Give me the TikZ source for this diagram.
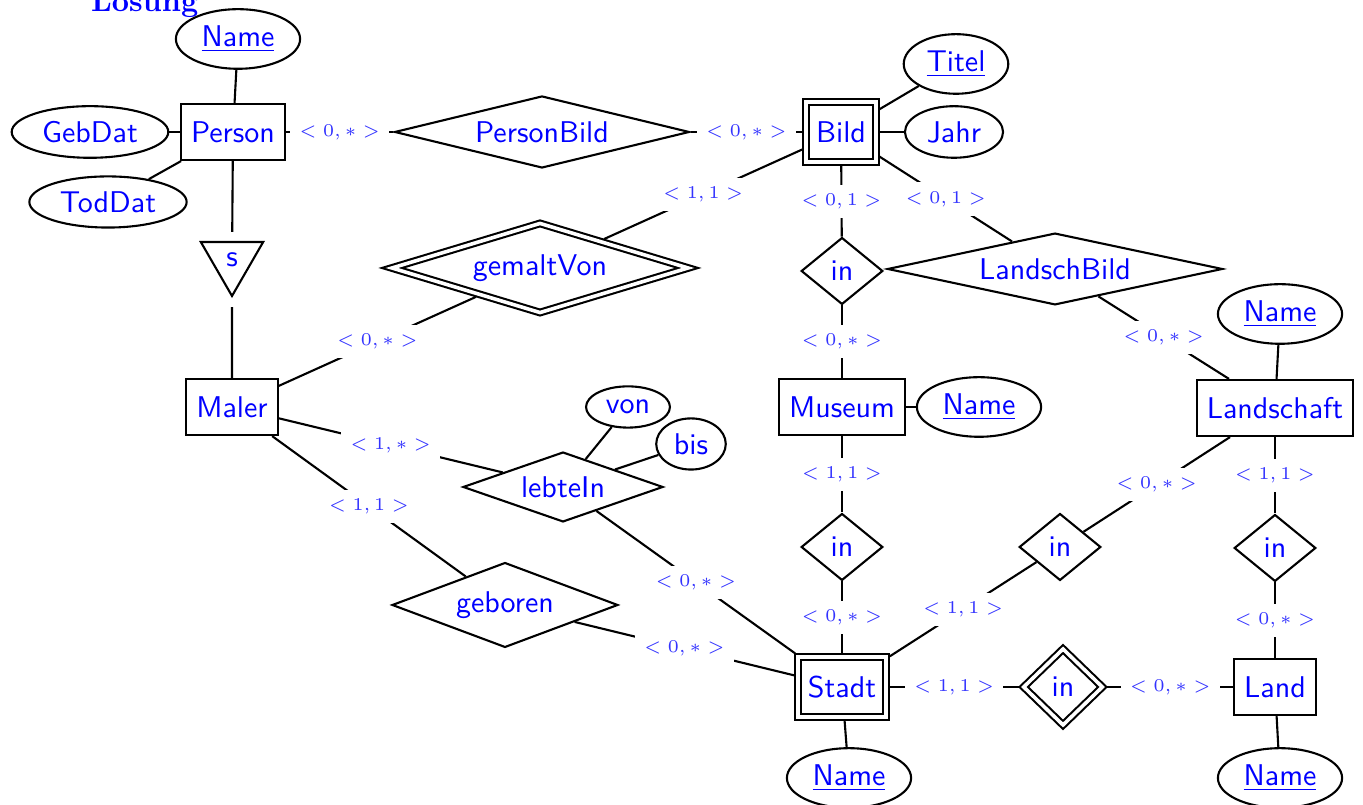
\documentclass[tikz,border=0pt]{standalone}
\usetikzlibrary{shapes.geometric}

\tikzset{
  entity/.style={draw, rectangle, minimum height=18.7pt, font=\sffamily, text=blue},
  weakentity/.style={entity, double, double distance=1.2pt, minimum height=20pt, outer sep=1.2pt},
  attr/.style={draw, ellipse, inner sep=2.5pt, font=\sffamily, text=blue},
  rel/.style={draw, diamond, aspect=3, inner sep=0pt, font=\sffamily, text=blue},
  weakrel/.style={rel, double, double distance=1.2pt, outer sep=1.2pt},
  card/.style={font=\fontsize{6.3}{7}\selectfont, text=blue!80, fill=white, inner sep=3pt},
  isa/.style={draw, regular polygon, regular polygon sides=3, shape border rotate=180,
    minimum size=24pt, inner sep=0pt, font=\sffamily, text=blue}
}

\begin{document}
\begin{tikzpicture}[x=33.33pt, y=33.33pt, line width=0.7pt]
  \useasboundingbox (0,0) rectangle (13.63,8.05);

  \node[anchor=base west, text=blue, font=\bfseries, inner sep=0pt] (title) at (0.90,7.93) {Lösung};

  % Entitaeten
  \node[entity] (person) at (2.33,6.73) {Person};
  \node[weakentity] (bild) at (8.41,6.73) {Bild};
  \node[entity] (maler) at (2.32,3.98) {Maler};
  \node[entity] (museum) at (8.42,3.98) {Museum};
  \node[entity] (landschaft) at (12.75,3.97) {Landschaft};
  \node[weakentity] (stadt) at (8.42,1.18) {Stadt};
  \node[entity] (land) at (12.75,1.18) {Land};

  % Attribute
  \node[attr] (pname) at (2.38,7.66) {\underline{Name}};
  \node[attr] (gebdat) at (0.90,6.73) {GebDat};
  \node[attr] (toddat) at (1.08,6.03) {TodDat};
  \node[attr] (titel) at (9.56,7.41) {\underline{Titel}};
  \node[attr] (jahr) at (9.54,6.73) {Jahr};
  \node[attr] (mname) at (9.79,3.98) {\underline{Name}};
  \node[attr] (lname) at (12.80,4.91) {\underline{Name}};
  \node[attr] (von) at (6.28,3.98) {von};
  \node[attr] (bis) at (6.91,3.61) {bis};
  \node[attr] (sname) at (8.49,0.27) {\underline{Name}};
  \node[attr] (laname) at (12.80,0.27) {\underline{Name}};

  % Beziehungen
  \node[rel, minimum width=98.3pt, minimum height=24pt] (personbild) at (5.42,6.73) {PersonBild};
  \node[weakrel, minimum width=99.7pt, minimum height=30.7pt] (gemaltvon) at (5.40,5.37) {gemaltVon};
  \node[rel, minimum width=24.3pt, minimum height=22.3pt] (inmuseum) at (8.42,5.34) {in};
  \node[rel, minimum width=111.7pt, minimum height=23.7pt] (landschbild) at (10.55,5.36) {LandschBild};
  \node[rel, minimum width=66.7pt, minimum height=23.3pt] (lebtein) at (5.63,3.18) {lebteIn};
  \node[rel, minimum width=75.3pt, minimum height=28.3pt] (geboren) at (5.05,2.00) {geboren};
  \node[rel, minimum width=24.3pt, minimum height=22.3pt] (instadt) at (8.42,2.58) {in};
  \node[rel, minimum width=24.3pt, minimum height=22.3pt] (inlandschaft) at (10.60,2.58) {in};
  \node[rel, minimum width=24.3pt, minimum height=22.3pt] (inland) at (12.75,2.57) {in};
  \node[weakrel, minimum width=27pt, minimum height=26.3pt] (instaat) at (10.63,1.18) {in};

  \node[isa] (isa) at (2.32,5.45) {s};

  % Verbindungen
  \draw (pname) -- (person);
  \draw (gebdat) -- (person);
  \draw (toddat) -- (person);
  \draw (person) -- node[card] {$<0,*>$} (personbild);
  \draw (personbild) -- node[card] {$<0,*>$} (bild);
  \draw (titel) -- (bild);
  \draw (jahr) -- (bild);
  \draw (bild) -- node[card] {$<1,1>$} (gemaltvon);
  \draw (gemaltvon) -- node[card] {$<0,*>$} (maler);
  \draw (bild) -- node[card] {$<0,1>$} (inmuseum);
  \draw (inmuseum) -- node[card] {$<0,*>$} (museum);
  \draw (bild) -- node[card] {$<0,1>$} (landschbild);
  \draw (landschbild) -- node[card] {$<0,*>$} (landschaft);
  \draw (mname) -- (museum);
  \draw (lname) -- (landschaft);

  \draw[shorten >=3pt] (person) -- (isa);
  \draw[shorten <=3pt] (isa) -- (maler);

  \draw (maler) -- node[card] {$<1,*>$} (lebtein);
  \draw (von) -- (lebtein);
  \draw (bis) -- (lebtein);
  \draw (maler) -- node[card] {$<1,1>$} (geboren);
  \draw (lebtein) -- node[card] {$<0,*>$} (stadt);
  \draw (geboren) -- node[card] {$<0,*>$} (stadt);
  \draw (museum) -- node[card] {$<1,1>$} (instadt);
  \draw (instadt) -- node[card] {$<0,*>$} (stadt);
  \draw (landschaft) -- node[card] {$<0,*>$} (inlandschaft);
  \draw (inlandschaft) -- node[card] {$<1,1>$} (stadt);
  \draw (landschaft) -- node[card] {$<1,1>$} (inland);
  \draw (inland) -- node[card] {$<0,*>$} (land);
  \draw (stadt) -- node[card] {$<1,1>$} (instaat);
  \draw (instaat) -- node[card] {$<0,*>$} (land);
  \draw (sname) -- (stadt);
  \draw (laname) -- (land);
\end{tikzpicture}
\end{document}
